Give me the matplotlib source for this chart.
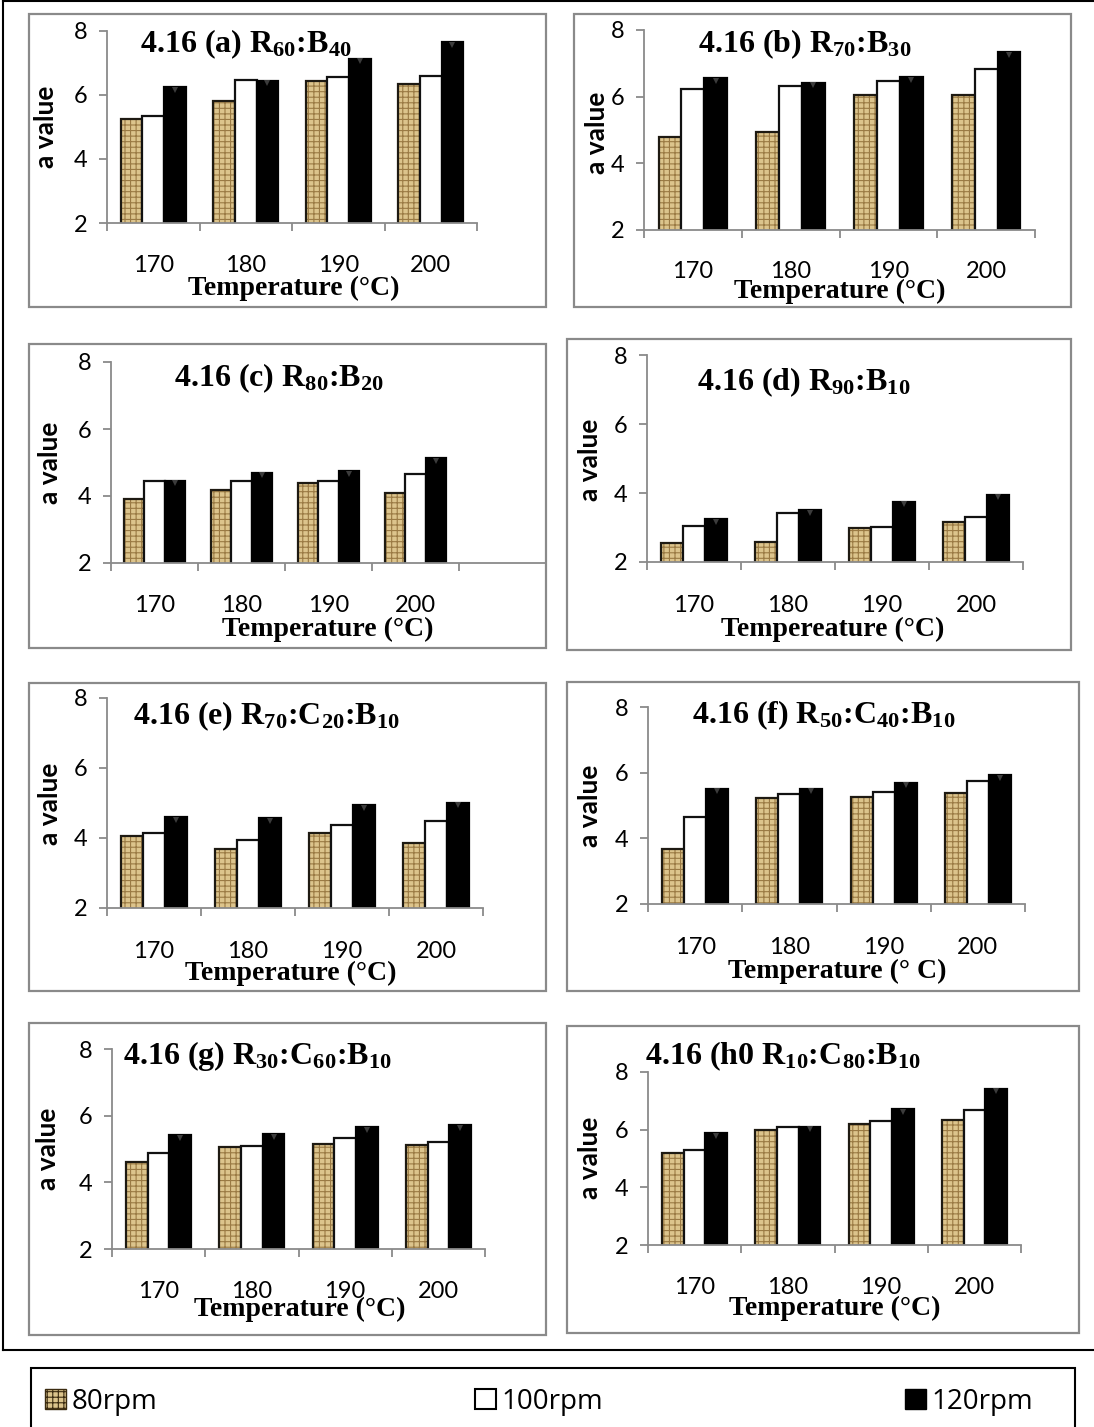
import matplotlib
matplotlib.use("Agg")
import matplotlib.pyplot as plt
import numpy as np
from matplotlib.patches import Rectangle, Patch
from matplotlib.lines import Line2D
from matplotlib.transforms import blended_transform_factory

plt.rcParams['font.family'] = 'Lato'
plt.rcParams['mathtext.default'] = 'regular'
plt.rcParams['hatch.linewidth'] = 0.8

W, H = 1094, 1427

temps = ["170", "180", "190", "200"]
series = ["80rpm", "100rpm", "120rpm"]

# a value per panel, one list per speed (80, 100, 120 rpm), values at 170..200 °C
a_rpm80 = [5.25, 5.80, 6.45, 6.35]
a_rpm100 = [5.35, 6.47, 6.55, 6.60]
a_rpm120 = [6.25, 6.45, 7.13, 7.65]

b_rpm80 = [4.80, 4.93, 6.05, 6.05]
b_rpm100 = [6.23, 6.33, 6.47, 6.84]
b_rpm120 = [6.55, 6.42, 6.58, 7.33]

c_rpm80 = [3.90, 4.18, 4.38, 4.10]
c_rpm100 = [4.46, 4.46, 4.46, 4.67]
c_rpm120 = [4.46, 4.70, 4.74, 5.12]

d_rpm80 = [2.55, 2.59, 2.98, 3.15]
d_rpm100 = [3.03, 3.42, 3.01, 3.30]
d_rpm120 = [3.24, 3.51, 3.75, 3.95]

e_rpm80 = [4.05, 3.70, 4.14, 3.87]
e_rpm100 = [4.15, 3.94, 4.38, 4.49]
e_rpm120 = [4.60, 4.56, 4.94, 5.01]

f_rpm80 = [3.69, 5.24, 5.27, 5.37]
f_rpm100 = [4.66, 5.36, 5.42, 5.74]
f_rpm120 = [5.51, 5.51, 5.69, 5.93]

g_rpm80 = [4.62, 5.06, 5.15, 5.11]
g_rpm100 = [4.87, 5.09, 5.33, 5.20]
g_rpm120 = [5.41, 5.45, 5.65, 5.71]

h_rpm80 = [5.20, 6.00, 6.21, 6.33]
h_rpm100 = [5.29, 6.09, 6.30, 6.69]
h_rpm120 = [5.87, 6.09, 6.70, 7.42]

titles = [r"4.16 (a) R$_{60}$:B$_{40}$", r"4.16 (b) R$_{70}$:B$_{30}$",
          r"4.16 (c) R$_{80}$:B$_{20}$", r"4.16 (d) R$_{90}$:B$_{10}$",
          r"4.16 (e) R$_{70}$:C$_{20}$:B$_{10}$", r"4.16 (f) R$_{50}$:C$_{40}$:B$_{10}$",
          r"4.16 (g) R$_{30}$:C$_{60}$:B$_{10}$", r"4.16 (h0 R$_{10}$:C$_{80}$:B$_{10}$"]
xlabels = ["Temperature (°C)", "Temperature (°C)", "Temperature (°C)",
           "Tempereature (°C)", "Temperature (°C)", "Temperature (° C)",
           "Temperature (°C)", "Temperature (°C)"]
panel_data = [(a_rpm80, a_rpm100, a_rpm120), (b_rpm80, b_rpm100, b_rpm120),
              (c_rpm80, c_rpm100, c_rpm120), (d_rpm80, d_rpm100, d_rpm120),
              (e_rpm80, e_rpm100, e_rpm120), (f_rpm80, f_rpm100, f_rpm120),
              (g_rpm80, g_rpm100, g_rpm120), (h_rpm80, h_rpm100, h_rpm120)]

# layout in pixels: frame box, axes box, title (left, baseline),
# xlabel centre, tick label y, ylabel centre, number of category slots
layout = [
    ((29, 14, 546, 307), (107, 31, 477, 223), (140, 52), (294, 288), 266, (46, 127), 4),
    ((574, 14, 1071, 307), (644, 30, 1035, 230), (698, 52), (840, 291), 272, (597, 133), 4),
    ((29, 344, 546, 648), (111, 362, 546, 563), (174, 386), (328, 629), 606, (50, 463), 5),
    ((567, 339, 1071, 650), (647, 355, 1023, 562), (697, 390), (833, 629), 606, (590, 460), 4),
    ((29, 683, 546, 991), (107, 698, 483, 908), (133, 724), (291, 973), 952, (50, 804), 4),
    ((567, 682, 1079, 991), (648, 707, 1025, 904), (692, 723), (837, 971), 947, (590, 806), 4),
    ((29, 1023, 546, 1335), (112, 1049, 485, 1249), (123, 1064), (300, 1309), 1292, (48, 1149), 4),
    ((567, 1026, 1079, 1333), (648, 1072, 1021, 1245), (645, 1064), (835, 1308), 1287, (590, 1158), 4),
]

TAN = '#dcc48c'
WEAVE = '#9a7a44'
AXIS_GREY = '#8a8a8a'


def fx(px):
    return px / W


def fy(py):
    return 1 - py / H


fig = plt.figure(figsize=(W / 100, H / 100), dpi=100)
fig.patch.set_facecolor('white')

# outer table frame (right side runs off the page)
for xs, ys in [([3, 3], [1, 1350]), ([3, 1100], [1, 1]), ([3, 1100], [1350, 1350])]:
    fig.add_artist(Line2D([fx(v) for v in xs], [fy(v) for v in ys],
                          transform=fig.transFigure, color='black', lw=1.5))

w = 0.233
for (frame, box, tpos, xlpos, tick_y, ylpos, nslot), title, xlabel, vals in zip(
        layout, titles, xlabels, panel_data):
    l, t, r, b = frame
    fig.add_artist(Rectangle((fx(l), fy(b)), (r - l) / W, (b - t) / H,
                             transform=fig.transFigure, fill=False,
                             ec=AXIS_GREY, lw=1.6))

    l, t, r, b = box
    ax = fig.add_axes([fx(l), fy(b), (r - l) / W, (b - t) / H])
    ax.patch.set_alpha(0)

    x = np.arange(len(temps))
    v80, v100, v120 = vals
    ax.bar(x - w, v80, w, color=TAN, edgecolor=WEAVE, hatch='+++', lw=0)
    ax.bar(x - w, v80, w, fill=False, edgecolor='#1e1a12', lw=1.6)
    ax.bar(x, v100, w, color='white', edgecolor='#111111', lw=1.6)
    ax.bar(x + w, v120, w, color='black', edgecolor='black', lw=1.6)
    # little shaded cap on the black bars
    ax.plot(x + w, np.array(v120) - 0.08, 'v', color='#3c3c3c', ms=5, mew=0)

    ax.set_xlim(-0.5, nslot - 0.5)
    ax.set_ylim(2, 8)
    ax.set_yticks([2, 4, 6, 8])
    ax.set_xticks(np.arange(nslot + 1) - 0.5)
    ax.set_xticklabels([])
    ax.tick_params(axis='x', length=6, width=1.3, color=AXIS_GREY)
    ax.tick_params(axis='y', length=6, width=1.3, color=AXIS_GREY,
                   labelsize=17, pad=8)
    for side in ['top', 'right']:
        ax.spines[side].set_visible(False)
    for side in ['left', 'bottom']:
        ax.spines[side].set_color(AXIS_GREY)
        ax.spines[side].set_linewidth(1.3)

    trans = blended_transform_factory(ax.transData, fig.transFigure)
    for i, lab in enumerate(temps):
        ax.text(i, fy(tick_y), lab, transform=trans, ha='center', va='center',
                fontsize=17)

    fig.text(fx(tpos[0]), fy(tpos[1]), title, ha='left', va='baseline',
             family='Liberation Serif', weight='bold', fontsize=23)
    fig.text(fx(xlpos[0]), fy(xlpos[1]), xlabel, ha='center', va='center',
             family='Liberation Serif', weight='bold', fontsize=20)
    fig.text(fx(ylpos[0]), fy(ylpos[1]), 'a value', rotation=90, ha='center',
             va='center', fontsize=19, weight='bold')

# legend box at the bottom
fig.add_artist(Rectangle((fx(31), fy(1440)), (1075 - 31) / W, (1440 - 1368) / H,
                         transform=fig.transFigure, fill=False, ec='black', lw=1.5))
handles = [Patch(facecolor=TAN, edgecolor='#3b2b10', hatch='+++'),
           Patch(facecolor='white', edgecolor='black', lw=1.5),
           Patch(facecolor='black', edgecolor='black')]
for hnd, name, xpos in zip(handles, series, [45, 475, 905]):
    fig.legend(handles=[hnd], labels=[name], loc='center left',
               bbox_to_anchor=(fx(xpos), fy(1402)), frameon=False,
               prop={'family': 'Open Sans', 'size': 20},
               handlelength=0.75, handleheight=0.75, handletextpad=0.2,
               borderpad=0, borderaxespad=0)

fig.savefig("out.png", dpi=100)
